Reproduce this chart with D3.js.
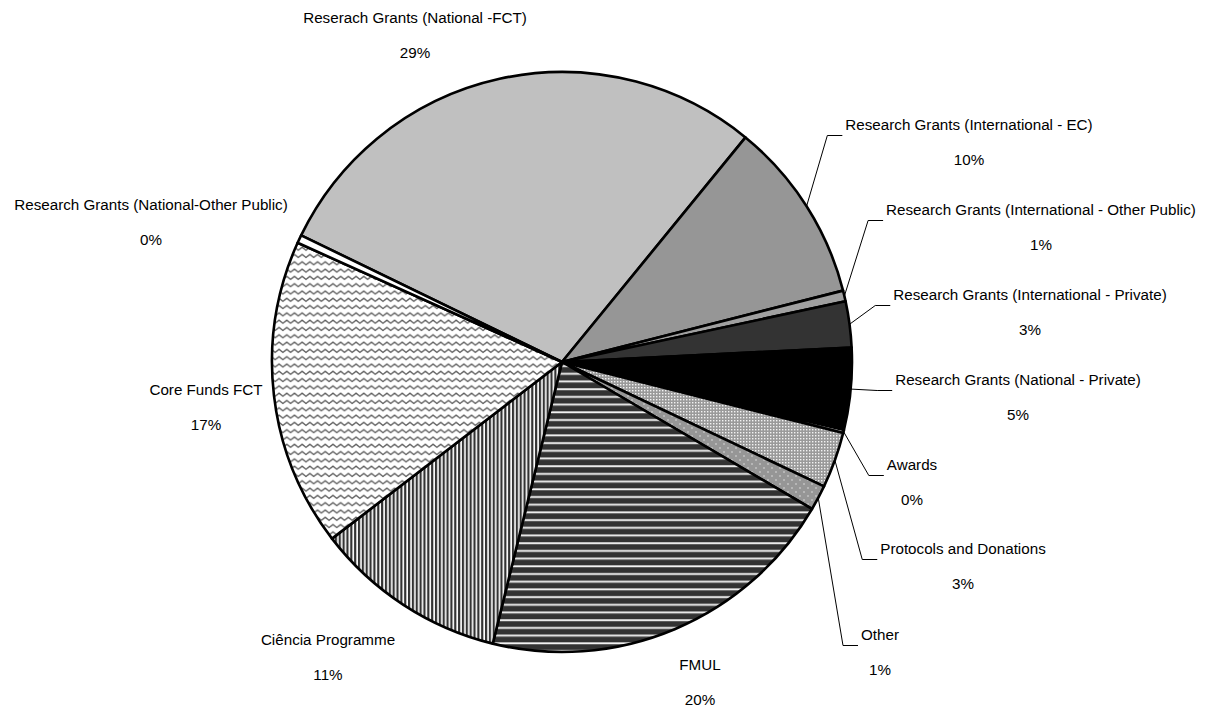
<!DOCTYPE html>
<html><head><meta charset="utf-8">
<script src="https://cdn.jsdelivr.net/npm/d3@7"></script>
<style>html,body{margin:0;padding:0;background:#fff;} text{font-family:"Liberation Sans",Arial,sans-serif;}</style>
</head><body><svg id="c" width="1209" height="709"></svg>
<script>
// ---- data ----
const categories = ["Reserach Grants (National -FCT)", "Research Grants (International - EC)", "Research Grants (International - Other Public)", "Research Grants (International - Private)", "Research Grants (National - Private)", "Awards", "Protocols and Donations", "Other", "FMUL", "Ciência Programme", "Core Funds FCT", "Research Grants (National-Other Public)"];
const values = [28.6, 10.1, 0.6, 2.55, 4.55, 0.17, 3.1, 1.4, 20.3, 10.7, 17.1, 0.45];
// ---- styles / layout ----
const fills = ["#c0c0c0", "#969696", "#a0a0a0", "#333333", "#000000", "#ffffff", "url(#pDots)", "url(#pSparse)", "url(#pHoriz)", "url(#pVert)", "url(#pWave)", "#ffffff"];
const labelPos = [[415,18],[969,125],[1041,210],[1030,295],[1018,380],[912,465],[963,549],[880,635],[700,665],[328,640],[206,390],[151,205]];
const hasLeader = [false,true,true,true,true,true,true,true,false,false,false,false];

const cx = 562, cy = 362, R = 290;
const start = -64.1 * Math.PI / 180;

const svg = d3.select("#c");
const defs = svg.append("defs");

// wave pattern
let p = defs.append("pattern").attr("id","pWave").attr("patternUnits","userSpaceOnUse").attr("width",7.7).attr("height",7.3);
p.append("rect").attr("width",7.7).attr("height",7.3).attr("fill","#fff");
p.append("path").attr("d","M-1.925,5 L0,3.5 L1.925,2 L5.775,5 L7.7,3.5 L9.625,2").attr("fill","none").attr("stroke","#5e5e5e").attr("stroke-width",1.35).attr("stroke-linejoin","round");
// horizontal stripes
p = defs.append("pattern").attr("id","pHoriz").attr("patternUnits","userSpaceOnUse").attr("width",8).attr("height",7.7);
p.append("rect").attr("width",8).attr("height",7.7).attr("fill","#333");
p.append("rect").attr("y",3).attr("width",8).attr("height",2.2).attr("fill","#a6a6a6");
p.append("rect").attr("y",3.5).attr("width",8).attr("height",1.2).attr("fill","#fff");
// vertical stripes
p = defs.append("pattern").attr("id","pVert").attr("patternUnits","userSpaceOnUse").attr("width",3.85).attr("height",8);
p.append("rect").attr("width",3.85).attr("height",8).attr("fill","#fff");
p.append("rect").attr("width",2.2).attr("height",8).attr("fill","#333");
// dense dots
p = defs.append("pattern").attr("id","pDots").attr("patternUnits","userSpaceOnUse").attr("width",3).attr("height",3);
p.append("rect").attr("width",3).attr("height",3).attr("fill","#9a9a9a");
p.append("rect").attr("x",1).attr("y",1).attr("width",1.4).attr("height",1.4).attr("fill","#f2f2f2");
// sparse dots
p = defs.append("pattern").attr("id","pSparse").attr("patternUnits","userSpaceOnUse").attr("width",8).attr("height",8);
p.append("rect").attr("width",8).attr("height",8).attr("fill","#969696");
p.append("circle").attr("cx",2).attr("cy",2).attr("r",0.7).attr("fill","#eee");
p.append("circle").attr("cx",6).attr("cy",6).attr("r",0.7).attr("fill","#eee");

const pie = d3.pie().sort(null).value(d => d).startAngle(start).endAngle(start + 2 * Math.PI);
const arcs = pie(values);
const arc = d3.arc().innerRadius(0).outerRadius(R);

const g = svg.append("g").attr("transform", `translate(${cx},${cy})`);
g.selectAll("path.slice").data(arcs).enter().append("path")
  .attr("class","slice")
  .attr("d", arc)
  .attr("fill", (d,i) => fills[i])
  .attr("stroke", "#000")
  .attr("stroke-width", 2.6)
  .attr("stroke-linejoin", "round");

const total = d3.sum(values);
const lab = svg.append("g");
arcs.forEach((d, i) => {
  const [lx, ly] = labelPos[i];
  const t = lab.append("text").attr("x", lx).attr("y", ly).attr("dy","0.35em")
    .attr("text-anchor","middle").attr("font-size","15.2px").attr("fill","#000")
    .text(categories[i]);
  lab.append("text").attr("x", lx).attr("y", ly + 34.5).attr("dy","0.35em")
    .attr("text-anchor","middle").attr("font-size","15.2px").attr("fill","#000")
    .text(Math.round(values[i] / total * 100) + "%");
  if (hasLeader[i]) {
    const w = t.node().getComputedTextLength();
    const left = lx - w / 2;
    const mid = (d.startAngle + d.endAngle) / 2;
    const sx = cx + R * Math.sin(mid), sy = cy - R * Math.cos(mid);
    const yy = ly + 10.5;
    lab.append("path")
      .attr("d", `M${sx},${sy} L${left - 18},${yy} L${left - 3},${yy}`)
      .attr("fill","none").attr("stroke","#000").attr("stroke-width",1);
  }
});
</script></body></html>
